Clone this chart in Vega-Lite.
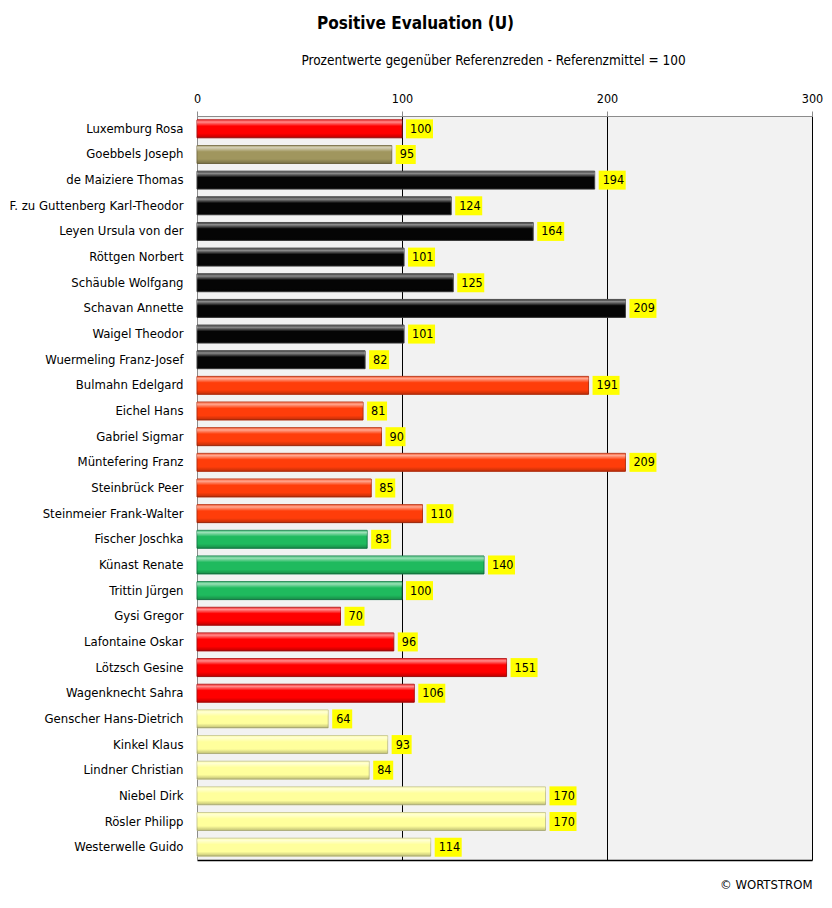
{
  "$schema": "https://vega.github.io/schema/vega-lite/v6.json",
  "autosize": {"type": "none"},
  "width": 615,
  "height": 744,
  "padding": {"left": 197, "top": 116, "right": 20, "bottom": 48},
  "background": "white",
  "config": {
    "font": "Liberation Sans Narrow, DejaVu Sans Condensed, sans-serif",
    "view": {"stroke": null, "fill": "#f2f2f2"}
  },
  "title": {
    "text": "Positive Evaluation (U)",
    "anchor": "middle",
    "dx": -89,
    "offset": 20,
    "fontSize": 17,
    "fontWeight": "bold",
    "color": "black"
  },
  "data": {
    "values": [
      {"name": "Luxemburg Rosa", "value": 100, "party": "KPD"},
      {"name": "Goebbels Joseph", "value": 95, "party": "NSDAP"},
      {"name": "de Maiziere Thomas", "value": 194, "party": "CDU/CSU"},
      {"name": "F. zu Guttenberg Karl-Theodor", "value": 124, "party": "CDU/CSU"},
      {"name": "Leyen Ursula von der", "value": 164, "party": "CDU/CSU"},
      {"name": "Röttgen Norbert", "value": 101, "party": "CDU/CSU"},
      {"name": "Schäuble Wolfgang", "value": 125, "party": "CDU/CSU"},
      {"name": "Schavan Annette", "value": 209, "party": "CDU/CSU"},
      {"name": "Waigel Theodor", "value": 101, "party": "CDU/CSU"},
      {"name": "Wuermeling Franz-Josef", "value": 82, "party": "CDU/CSU"},
      {"name": "Bulmahn Edelgard", "value": 191, "party": "SPD"},
      {"name": "Eichel Hans", "value": 81, "party": "SPD"},
      {"name": "Gabriel Sigmar", "value": 90, "party": "SPD"},
      {"name": "Müntefering Franz", "value": 209, "party": "SPD"},
      {"name": "Steinbrück Peer", "value": 85, "party": "SPD"},
      {"name": "Steinmeier Frank-Walter", "value": 110, "party": "SPD"},
      {"name": "Fischer Joschka", "value": 83, "party": "Grüne"},
      {"name": "Künast Renate", "value": 140, "party": "Grüne"},
      {"name": "Trittin Jürgen", "value": 100, "party": "Grüne"},
      {"name": "Gysi Gregor", "value": 70, "party": "Linke"},
      {"name": "Lafontaine Oskar", "value": 96, "party": "Linke"},
      {"name": "Lötzsch Gesine", "value": 151, "party": "Linke"},
      {"name": "Wagenknecht Sahra", "value": 106, "party": "Linke"},
      {"name": "Genscher Hans-Dietrich", "value": 64, "party": "FDP"},
      {"name": "Kinkel Klaus", "value": 93, "party": "FDP"},
      {"name": "Lindner Christian", "value": 84, "party": "FDP"},
      {"name": "Niebel Dirk", "value": 170, "party": "FDP"},
      {"name": "Rösler Philipp", "value": 170, "party": "FDP"},
      {"name": "Westerwelle Guido", "value": 114, "party": "FDP"}
    ]
  },
  "encoding": {
    "y": {
      "field": "name",
      "type": "nominal",
      "sort": null,
      "scale": {"paddingInner": 0.3, "paddingOuter": 0.15},
      "axis": {
        "title": null,
        "ticks": false,
        "domain": true,
        "domainColor": "#8c8c8c",
        "labelPadding": 14,
        "labelFontSize": 13,
        "labelColor": "black",
        "labelLimit": 200
      }
    }
  },
  "layer": [
    {
      "mark": {"type": "bar", "strokeWidth": 1},
      "encoding": {
        "x": {
          "field": "value",
          "type": "quantitative",
          "scale": {"domain": [0, 300]},
          "axis": {
            "orient": "top",
            "values": [0, 100, 200, 300],
            "labelFlush": false,
            "title": "Prozentwerte  gegenüber Referenzreden - Referenzmittel = 100",
            "titleFontSize": 13.5,
            "titleFontWeight": "normal",
            "titleColor": "black",
            "titleX": 296,
            "titlePadding": 25,
            "labelFontSize": 12.5,
            "labelColor": "black",
            "labelPadding": 6,
            "tickSize": 5,
            "tickColor": "#8c8c8c",
            "domainColor": "#8c8c8c",
            "grid": true,
            "gridColor": {"condition": {"test": "datum.value === 0", "value": "#8c8c8c"}, "value": "black"},
            "gridOpacity": 1
          }
        },
        "color": {
          "field": "party",
          "type": "nominal",
          "scale": {
            "domain": ["KPD", "NSDAP", "CDU/CSU", "SPD", "Grüne", "Linke", "FDP"],
            "range": ["#ff0000", "#a0965e", "#050505", "#ff3d0a", "#1fba5e", "#ff0000", "#ffff9c"]
          },
          "legend": null
        },
        "stroke": {
          "field": "party",
          "type": "nominal",
          "scale": {
            "domain": ["KPD", "NSDAP", "CDU/CSU", "SPD", "Grüne", "Linke", "FDP"],
            "range": ["#b01010", "#7a7048", "#404040", "#b83010", "#16804a", "#b01010", "#c8c890"]
          },
          "legend": null
        }
      }
    },
    {
      "mark": {
        "type": "bar",
        "color": {
          "gradient": "linear",
          "x1": 0, "y1": 0, "x2": 0, "y2": 1,
          "stops": [
            {"offset": 0, "color": "rgba(255,255,255,0.15)"},
            {"offset": 0.12, "color": "rgba(255,255,255,0.55)"},
            {"offset": 0.35, "color": "rgba(255,255,255,0)"},
            {"offset": 0.75, "color": "rgba(0,0,0,0)"},
            {"offset": 1, "color": "rgba(0,0,0,0.25)"}
          ]
        }
      },
      "encoding": {
        "x": {"field": "value", "type": "quantitative", "axis": null}
      }
    },
    {
      "transform": [{"filter": "datum.value >= 100"}],
      "mark": {"type": "bar", "color": "#ffff00", "height": 19, "xOffset": 4, "x2Offset": 31},
      "encoding": {
        "x": {"field": "value", "type": "quantitative", "axis": null},
        "x2": {"field": "value"}
      }
    },
    {
      "transform": [{"filter": "datum.value < 100"}],
      "mark": {"type": "bar", "color": "#ffff00", "height": 19, "xOffset": 4, "x2Offset": 24},
      "encoding": {
        "x": {"field": "value", "type": "quantitative", "axis": null},
        "x2": {"field": "value"}
      }
    },
    {
      "mark": {"type": "text", "align": "left", "baseline": "middle", "xOffset": 8, "fontSize": 12.5, "color": "black"},
      "encoding": {
        "x": {"field": "value", "type": "quantitative", "axis": null},
        "text": {"field": "value", "type": "quantitative"}
      }
    },
    {
      "mark": {"type": "rule", "opacity": 0},
      "encoding": {
        "x": {
          "datum": 0,
          "type": "quantitative",
          "axis": {
            "orient": "bottom",
            "labels": false,
            "ticks": false,
            "grid": false,
            "domainColor": "black",
            "domainWidth": 1.5,
            "title": "© WORTSTROM",
            "titleAnchor": "end",
            "titleFontWeight": "normal",
            "titleFontSize": 13,
            "titleColor": "black",
            "titlePadding": 18
          }
        }
      }
    }
  ],
  "resolve": {"axis": {"x": "independent"}}
}
